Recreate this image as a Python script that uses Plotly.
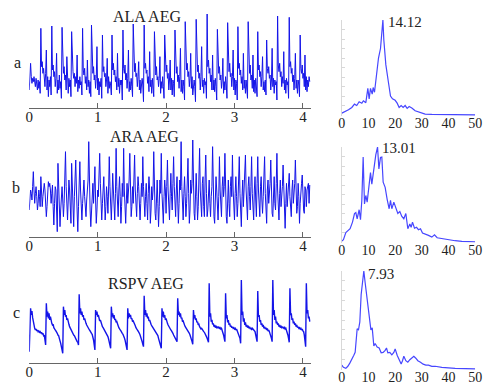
import numpy as np
import plotly.graph_objects as go

FS = 100  # samples per second of the AEG traces

ala_aeg = [
    -0.2, 0.1,
    0.6, 0.2, 0.0, 0.15, 0.05, 0.2, 0.1, -0.1, 0.15, 0.0, -0.2, 0.1, -0.15, 0.05, -0.3,
    1.65, 0.5, 0.65, 0.3, 0.45, 0.2, -0.1, 0.3, 1.0, -0.2, 0.2, -0.4, 0.1, -0.1, 0.2, -0.35,
    1.72, 0.4, 0.55, 0.2, 0.35, -0.1, 0.15, 0.9, -0.3, 0.1, -0.2, 0.25, -0.15, 0.05, -0.45,
    1.68, 0.45, 0.3, 0.5, 0.1, 0.25, -0.2, 0.8, 0.0, -0.3, 0.15, -0.1, 0.1, -0.4,
    1.55, 0.5, 0.35, 0.15, 0.3, -0.1, 0.2, 0.0, 0.85, -0.25, 0.1, -0.15, 0.2, -0.05, 0.05, -0.35,
    1.65, 0.4, 0.25, 0.45, 0.0, 0.2, -0.2, 0.7, -0.1, 0.1, -0.3, 0.05, -0.4,
    1.75, 0.55, 0.3, 0.5, 0.1, 0.25, -0.15, 0.15, 1.1, -0.2, 0.15, -0.35, 0.05, -0.1, 0.15, -0.45,
    1.45, 0.35, 0.5, 0.2, 0.3, -0.1, 0.1, 0.75, -0.3, 0.2, -0.15, 0.05, -0.05, -0.35,
    1.45, 0.4, 0.6, 0.25, 0.4, 0.05, 0.2, -0.2, 0.9, -0.1, 0.15, -0.3, 0.1, -0.05, 0.1, -0.5,
    1.6, 0.45, 0.3, 0.55, 0.1, 0.3, -0.15, 0.15, 1.0, -0.25, 0.05, -0.2, 0.15, -0.1, -0.4,
    1.78, 0.5, 0.35, 0.6, 0.2, 0.3, -0.1, 0.2, 0.65, -0.2, 0.1, -0.3, 0.05, 0.15, -0.05, -0.55,
    1.75, 0.45, 0.6, 0.3, 0.4, 0.0, 0.2, -0.25, 0.95, -0.1, 0.1, -0.3, 0.15, -0.05, -0.4,
    1.55, 0.4, 0.25, 0.5, 0.1, 0.2, -0.1, 0.15, 0.8, -0.3, 0.05, -0.15, 0.2, -0.1, -0.45,
    1.45, 0.5, 0.35, 0.55, 0.15, 0.3, -0.2, 0.1, 0.7, -0.2, 0.15, -0.35, 0.1, 0.0, -0.4,
    1.6, 0.45, 0.3, 0.5, 0.05, 0.25, -0.15, 0.2, 1.05, -0.25, 0.1, -0.3, 0.1, -0.1, -0.5,
    1.85, 0.55, 0.4, 0.6, 0.2, 0.35, -0.1, 0.15, 0.9, -0.15, 0.2, -0.35, 0.05, 0.1, -0.1, -0.55,
    1.92, 0.6, 0.35, 0.55, 0.15, 0.3, -0.2, 0.2, 1.1, -0.1, 0.1, -0.3, 0.15, -0.05, 0.05, -0.45,
    2.08, 0.5, 0.7, 0.3, 0.45, 0.05, 0.25, -0.2, 0.85, -0.2, 0.1, -0.25, 0.15, -0.1, -0.5,
    1.62, 0.45, 0.3, 0.5, 0.1, 0.25, -0.15, 0.1, 0.75, -0.3, 0.05, -0.2, 0.2, -0.05, -0.45,
    1.82, 0.5, 0.35, 0.6, 0.2, 0.3, -0.1, 0.2, 1.0, -0.2, 0.15, -0.35, 0.1, 0.0, -0.5,
    1.7, 0.45, 0.6, 0.25, 0.4, 0.0, 0.2, -0.2, 0.9, -0.15, 0.1, -0.3, 0.1, -0.1, -0.45,
    1.85, 0.5, 0.3, 0.55, 0.1, 0.25, -0.15, 0.85, -0.25, 0.1, -0.3, 0.15, -0.05, -0.4,
    1.55, 0.4, 0.55, 0.2, 0.35, -0.1, 0.2, 0.8, -0.2, 0.05, -0.25, 0.1, -0.35,
    1.3, 0.45, 0.3, 0.5, 0.15, 0.25, -0.2, 0.1, 1.05, -0.1, 0.15, -0.3, 0.1, -0.05, 0.05, -0.5,
    2.02, 0.55, 0.35, 0.6, 0.2, 0.35, -0.1, 0.2, 0.0, 0.95, -0.2, 0.1, -0.3, 0.15, -0.05, 0.05, -0.45,
    1.98, 0.5, 0.65, 0.3, 0.45, 0.05, 0.25, -0.2, 0.15, 0.9, -0.15, 0.1, -0.3, 0.1, -0.05, -0.4,
    1.45, 0.45, 0.3, 0.55, 0.15, 0.3, -0.1, 0.85, -0.2, 0.2, -0.25, 0.1, -0.1, 0.2, 0.05,
]

ara_aeg = [
    -0.4, -0.1, 0.2, 0.1, -0.1, 0.3,
    0.75, 0.2, -0.2, 0.1, 0.3, 0.0, -0.4, -0.2, 0.2, 0.0, -0.3,
    0.6, 0.1, -0.3, 0.0, 0.3, 0.4, 0.2, -0.2, -0.6, -0.3, 0.1,
    0.45, 0.3, 0.4, 0.2, -0.2, 0.1, 0.35, -0.3, -0.85, -0.2, 0.3, 0.2, -0.4, -1.05,
    1.0, 0.2, -0.3, -0.9, -0.4, 0.2, 0.3, -0.1, -0.6, -0.2, 0.4,
    1.35, 0.3, -0.4, -0.7, -0.1, 0.5, 0.2, -0.5, -0.8,
    1.0, 0.1, -0.6, -0.9, 0.0, 0.5,
    1.1, 0.2, -0.5, -1.05, -0.3, 0.4,
    1.05, 0.2, -0.4, -0.7, -0.2, 0.4, 0.5, 0.0, -0.3, -0.6, -0.1, 0.3, 0.5,
    1.65, 0.3, -0.4, -0.9, -0.5, 0.2, 0.4, -0.2, 0.3,
    0.9, -0.1, -0.8, -0.4, 0.2, 0.0, 0.5,
    1.3, 0.4, -0.3, -0.7, -0.2, 0.5, 0.6, -0.1, -0.7, -0.3, 0.3, 0.0, -0.5, 0.2,
    1.2, 0.3, -0.4, -0.7, -0.1, 0.7, 0.2, -0.4, -0.7, 0.1,
    1.45, 0.3, -0.4, -0.6, 0.2, 0.6, 0.0, -0.8, -0.3, 0.4, 0.0,
    1.45, 0.2, -0.5, -0.8, -0.1, 0.4, -0.2, 0.1, 0.5,
    1.3, 0.1, -0.6, -0.3, 0.3, -0.2, 0.4,
    1.25, 0.2, -0.4, -0.6, 0.1, 0.6, 0.3, -0.2, -0.7, -0.2, 0.4, 0.0,
    1.2, 0.3, -0.3, -0.6, 0.0, 0.4, -0.2, -0.7, 0.1, 0.6, 0.2, -0.8, -0.4, 0.3, -0.1, 0.2,
    1.35, 0.2, -0.5, -0.7, 0.1, 0.5, -0.2, -0.9, -0.3, 0.5, 0.1,
    1.3, 0.1, -0.6, -0.8, 0.0, 0.5, 0.2, -0.5, 0.3,
    1.1, 0.2, -0.5, -0.7, 0.1, 0.7, 0.0, -0.4, 0.4,
    1.2, 0.3, -0.4, -0.6, 0.2, 0.6, -0.1, -0.8, -0.2, 0.5, 0.2,
    1.65, 0.3, -0.5, -0.7, 0.1, 0.6, 0.0, -0.6, -0.2, 0.5,
    1.15, 0.1, -0.8, -0.4, 0.5, 0.1, 0.4,
    1.7, 0.3, -0.5, -0.7, 0.2, 0.7, 0.0, -0.7, -0.3, 0.4,
    1.45, 0.2, -0.5, -0.6, 0.4, 0.6, -0.3, -0.6, 0.5,
    1.25, 0.1, -0.6, -0.4, 0.4, 0.5, -0.2, -0.6, 0.0, 0.3,
    1.5, 0.2, -0.6, -0.8, 0.1, 0.6, 0.2, -0.4, -0.7, 0.0,
    1.2, 0.2, -0.5, -0.6, 0.3, 0.6, 0.0, 0.3,
    1.3, 0.1, -0.6, -0.8, 0.2, 0.5, -0.2, -0.6, 0.3, 0.6, 0.0,
    1.25, 0.2, -0.5, -0.7, 0.1, 0.6, 0.0, -0.6, -0.2, 0.4,
    1.2, 0.1, -0.6, -0.9, 0.0, 0.5, -0.3, 0.1, 0.5,
    1.25, 0.2, -0.5, -0.7, 0.3, 0.6, 0.0, -0.4, 0.3,
    1.2, 0.1, -0.5, -0.7, 0.2, 0.6, -0.1, -0.6, 0.4,
    1.2, 0.2, -0.5, -0.6, 0.3, 0.6, -0.1, -0.5, 0.0, 0.4,
    1.2, 0.1, -0.6, -0.8, 0.2, 0.5, -0.2, 0.0, 0.4,
    1.1, 0.1, -0.5, -0.6, 0.4, 0.6, -0.2, -0.4, 0.4,
    1.3, 0.2, -0.5, -0.7, 0.1, 0.5, -0.3, -0.1, 0.3,
    0.95, 0.0, -0.6, -0.95, -0.2, 0.4, -0.3, 0.0, 0.2,
    0.7, 0.0, -0.5, -0.6, 0.2, 0.5, -0.2, 0.0, 0.4,
    1.1, 0.1, -0.5, -0.3, 0.4, 0.0, -0.8, -0.2, 0.3, 0.4,
    0.65, 0.0, -0.4, -0.5, 0.3, 0.2, -0.3, 0.2, 0.3,
    0.4, -0.2, 0.35,
]

rspv_aeg = [
    -0.6, 0.15, 0.7, 0.5, 0.62, 0.42, 0.3, 0.15, 0.1, 0.05, 0.08, 0.02, 0.05, 0.0, 0.02, -0.02, 0.0, -0.05, -0.02, -0.08, -0.05, -0.12, -0.1, -0.25, -0.4,
    0.85, 0.45, 0.6, 0.4, 0.55, 0.35, 0.45, 0.3, 0.25, 0.2, 0.22, 0.12, 0.1, 0.05, 0.02, 0.0, -0.05, -0.1, -0.12, -0.2, -0.25, -0.35, -0.45, -0.55, -0.65,
    0.75, 0.5, 0.65, 0.45, 0.5, 0.35, 0.4, 0.25, 0.22, 0.15, 0.1, 0.05, 0.02, -0.02, -0.05, -0.1, -0.12, -0.18, -0.2, -0.25, -0.3, -0.32, -0.4,
    1.12, 0.55, 0.7, 0.5, 0.6, 0.45, 0.5, 0.35, 0.4, 0.28, 0.25, 0.2, 0.15, 0.12, 0.1, 0.05, 0.02, 0.0, -0.05, -0.08, -0.15, -0.25, -0.4, -0.55,
    0.65, 0.5, 0.6, 0.45, 0.5, 0.4, 0.32, 0.35, 0.25, 0.2, 0.15, 0.12, 0.08, 0.05, 0.02, -0.02, -0.05, -0.1, -0.15, -0.22, -0.3, -0.35, -0.5,
    0.75, 0.45, 0.55, 0.4, 0.5, 0.35, 0.38, 0.28, 0.3, 0.2, 0.18, 0.12, 0.1, 0.05, 0.02, 0.0, -0.05, -0.08, -0.12, -0.18, -0.25, -0.35, -0.45, -0.55,
    0.7, 0.4, 0.55, 0.45, 0.5, 0.38, 0.4, 0.3, 0.32, 0.25, 0.2, 0.18, 0.12, 0.1, 0.05, 0.02, 0.0, -0.05, -0.1, -0.15, -0.2, -0.3, -0.38, -0.45,
    1.08, 0.5, 0.65, 0.45, 0.55, 0.4, 0.45, 0.32, 0.35, 0.25, 0.22, 0.18, 0.15, 0.1, 0.08, 0.05, 0.02, 0.0, -0.05, -0.08, -0.12, -0.2, -0.28, -0.38, -0.42, -0.5,
    0.7, 0.45, 0.6, 0.42, 0.5, 0.35, 0.4, 0.28, 0.25, 0.2, 0.15, 0.12, 0.08, 0.05, 0.02, 0.0, -0.05, -0.1, -0.15, -0.18, -0.22, -0.28, -0.3,
    1.0, 0.5, 0.6, 0.45, 0.55, 0.4, 0.42, 0.3, 0.32, 0.22, 0.2, 0.15, 0.12, 0.1, 0.05, 0.02, 0.0, -0.05, -0.1, -0.15, -0.2, -0.3, -0.38,
    0.65, 0.4, 0.5, 0.35, 0.4, 0.28, 0.3, 0.2, 0.22, 0.15, 0.12, 0.08, 0.1, 0.05, 0.02, 0.0, -0.02, -0.05, -0.1, -0.15, -0.2, -0.25, -0.32,
    1.45, 0.45, 0.55, 0.3, 0.35, 0.22, 0.25, 0.15, 0.2, 0.12, 0.18, 0.1, 0.15, 0.12, 0.15, 0.1, 0.12, 0.08, 0.1, 0.05, 0.0, -0.1, -0.2, -0.3,
    1.15, 0.4, 0.5, 0.28, 0.35, 0.2, 0.25, 0.15, 0.18, 0.12, 0.15, 0.1, 0.12, 0.08, 0.1, 0.05, 0.08, 0.02, 0.0, -0.05, -0.12, -0.2, -0.35,
    1.55, 0.5, 0.6, 0.3, 0.4, 0.2, 0.28, 0.15, 0.2, 0.12, 0.18, 0.1, 0.15, 0.08, 0.12, 0.05, 0.1, 0.08, 0.05, 0.02, 0.0, -0.1, -0.2, -0.3,
    1.22, 0.45, 0.5, 0.3, 0.35, 0.2, 0.25, 0.15, 0.2, 0.1, 0.15, 0.08, 0.12, 0.05, 0.1, 0.02, 0.05, 0.0, -0.05, -0.12, -0.2, -0.3,
    1.55, 0.5, 0.65, 0.35, 0.45, 0.25, 0.3, 0.2, 0.25, 0.15, 0.2, 0.12, 0.18, 0.1, 0.15, 0.12, 0.1, 0.15, 0.08, 0.1, 0.05, 0.0, -0.1, -0.2, -0.32,
    1.3, 0.5, 0.55, 0.35, 0.4, 0.25, 0.3, 0.2, 0.25, 0.15, 0.2, 0.12, 0.15, 0.1, 0.12, 0.08, 0.1, 0.05, 0.08, 0.02, 0.0, -0.1, -0.25, -0.45,
    1.45, 0.55, 0.65, 0.4, 0.45, 0.3,
]

# Spectra (normalised power vs frequency, Hz)
ala_freq = [0, 0.75, 1.25, 2.5, 3.75, 4.75, 5.6, 6.5, 7.5, 8.1, 9, 9.75, 10.25, 10.75, 11.4,
            11.75, 12.25, 12.75, 13.75, 14.5, 15, 15.4, 15.75, 16.5, 17.5, 18.25, 19, 20,
            20.75, 21.5, 22.25, 23, 23.75, 24.5, 25.25, 26.25, 27.5, 28.75, 30, 31.25, 33.75,
            37.5, 42.5, 50]
ala_pow = [0.02, 0.03, 0.045, 0.055, 0.08, 0.115, 0.10, 0.14, 0.125, 0.15, 0.13, 0.28, 0.17,
           0.28, 0.22, 0.29, 0.24, 0.375, 0.60, 0.70, 0.86, 1.0, 0.79, 0.53, 0.34, 0.20, 0.17,
           0.155, 0.125, 0.08, 0.10, 0.08, 0.10, 0.07, 0.09, 0.075, 0.045, 0.035, 0.017, 0.01,
           0.007, 0.005, 0.003, 0.001]

ara_freq = [0, 0.6, 1.5, 2.25, 3.1, 4, 4.75, 5.25, 5.75, 6.5, 7, 7.5, 8, 8.5, 9, 9.5, 10, 10.75,
            11.25, 12, 12.75, 13.4, 13.9, 14.5, 15, 15.5, 16.25, 17, 17.75, 18.25, 18.75, 19.5,
            20.25, 21, 21.75, 22.5, 23.25, 24, 24.75, 25.5, 26, 26.5, 27.25, 28, 28.75, 29.5,
            30.25, 31.25, 32.5, 33.75, 34.75, 35.75, 37.5, 40, 42.5, 45, 50]
ara_pow = [0.01, 0.025, 0.10, 0.12, 0.14, 0.21, 0.30, 0.31, 0.245, 0.34, 0.235, 0.44, 0.895,
           0.40, 0.49, 0.42, 0.575, 0.73, 0.61, 0.78, 0.92, 1.0, 0.77, 0.89, 0.895, 0.63, 0.575,
           0.45, 0.35, 0.44, 0.35, 0.42, 0.35, 0.30, 0.32, 0.27, 0.245, 0.30, 0.14, 0.19, 0.155,
           0.21, 0.145, 0.155, 0.13, 0.14, 0.095, 0.08, 0.07, 0.052, 0.077, 0.045, 0.035, 0.024,
           0.014, 0.007, 0.003]

rspv_freq = [0, 0.6, 1.5, 2.25, 3, 3.75, 4.5, 5, 5.75, 6.25, 6.75, 7.25, 7.75, 8.25, 8.75, 9.5,
             10.25, 10.9, 11.4, 12, 12.5, 13.25, 14, 14.75, 15.5, 16.25, 16.75, 17.25, 18, 18.75,
             19.5, 20, 20.75, 21.5, 22.25, 22.75, 23.25, 24, 24.75, 25.5, 26.25, 27, 27.75,
             28.5, 29.5, 30.5, 31.5, 32.5, 33.75, 35, 37.5, 40, 42.5, 46.25, 50]
rspv_pow = [0.04, 0.017, 0.007, 0.028, 0.06, 0.11, 0.14, 0.17, 0.41, 0.40, 0.48, 0.76, 0.91,
            1.0, 0.88, 0.69, 0.53, 0.40, 0.42, 0.235, 0.26, 0.225, 0.215, 0.165, 0.17, 0.19,
            0.215, 0.165, 0.17, 0.145, 0.17, 0.205, 0.14, 0.10, 0.05, 0.085, 0.13, 0.085, 0.07,
            0.095, 0.11, 0.13, 0.11, 0.085, 0.07, 0.05, 0.04, 0.04, 0.028, 0.028, 0.017, 0.01,
            0.007, 0.004, 0.002]

titles = ["ALA AEG", "ARA AEG", "RSPV AEG"]
row_letters = ["a", "b", "c"]
peak_labels = ["14.12", "13.01", "7.93"]
time_ticks = [0, 1, 2, 3, 4]
freq_ticks = [0, 10, 20, 30, 40, 50]

W, H = 489, 391
def py(px):
    return 1 - px / H
def pxx(px):
    return px / W

SERIF = "Liberation Serif, Times New Roman, serif"
SIG_COLOR = "#1414e8"
SPEC_COLOR = "#4646ff"

signals = [ala_aeg, ara_aeg, rspv_aeg]
sig_widths = [1.0, 1.0, 1.4]
spectra = [(ala_freq, ala_pow), (ara_freq, ara_pow), (rspv_freq, rspv_pow)]

left_rows = [  # (top px, bottom px, y range)
    (8, 108, [-0.74, 2.26]),
    (137, 237, [-1.21, 1.79]),
    (275, 363.3, [-0.95, 1.70]),
]
right_rows = [(20, 116), (147, 243), (271, 370)]
title_pos = [(146, 16), (144, 136), (145, 283)]
letter_pos = [(13.5, 62), (12.5, 187), (12.5, 312)]
peak_pos = [(16.4, 0.98), (14.2, 0.99), (9.0, 0.97)]
LEFT_DOM = (25.8, 314.2)
RIGHT_DOM = (345.6, 482.0)

fig = go.Figure()
layout = dict(
    width=W, height=H, margin=dict(l=0, r=0, t=0, b=0, pad=0),
    paper_bgcolor="white", plot_bgcolor="white", showlegend=False,
    annotations=[],
)

for r in range(3):
    sig = signals[r]
    t = np.arange(len(sig)) / FS
    xl = f"x{2*r+1}"
    yl = f"y{2*r+1}"
    xr = f"x{2*r+2}"
    yr = f"y{2*r+2}"
    fig.add_trace(go.Scatter(x=t, y=sig, mode="lines", xaxis=xl, yaxis=yl,
                             line=dict(color=SIG_COLOR, width=sig_widths[r])))
    f, p = spectra[r]
    fig.add_trace(go.Scatter(x=f, y=p, mode="lines", xaxis=xr, yaxis=yr,
                             line=dict(color=SPEC_COLOR, width=1.2)))
    top, bot, yrng = left_rows[r]
    k = "" if r == 0 else str(2*r+1)
    layout[f"xaxis{k}"] = dict(
        domain=[pxx(LEFT_DOM[0]), pxx(LEFT_DOM[1])], range=[0, 4.12], anchor=yl,
        showline=True, linecolor="#666666", linewidth=1,
        ticks="inside", ticklen=5, tickcolor="#666666",
        tickvals=time_ticks, ticktext=[str(v) for v in time_ticks],
        tickfont=dict(family=SERIF, size=15, color="#222222"),
        ticklabelstandoff=-5,
        showgrid=False, zeroline=False,
    )
    layout[f"yaxis{2*r+1}"] = dict(
        domain=[py(bot), py(top)], range=yrng, anchor=xl,
        showline=False, showticklabels=False, ticks="", showgrid=False, zeroline=False,
    )
    rtop, rbot = right_rows[r]
    layout[f"xaxis{2*r+2}"] = dict(
        domain=[pxx(RIGHT_DOM[0]), pxx(RIGHT_DOM[1])], range=[0, 50], anchor=yr,
        showline=False, ticks="",
        tickvals=freq_ticks, ticktext=[str(v) for v in freq_ticks],
        tickfont=dict(family=SERIF, size=14, color="#222222"),
        ticklabelstandoff=-3,
        showgrid=False, zeroline=False,
    )
    layout[f"yaxis{2*r+2}"] = dict(
        domain=[py(rbot), py(rtop)], range=[-0.01, 1.0], anchor=xr,
        showline=True, linecolor="#d8d8d8", linewidth=1,
        ticks="inside", ticklen=3, tickcolor="#d8d8d8", dtick=0.1,
        showticklabels=False, showgrid=False, zeroline=False,
    )
    tx, ty = title_pos[r]
    layout["annotations"].append(dict(
        x=pxx(tx), y=py(ty), xref="paper", yref="paper", text=titles[r],
        showarrow=False, xanchor="center", yanchor="middle",
        font=dict(family=SERIF, size=16, color="#222222")))
    lx, ly = letter_pos[r]
    layout["annotations"].append(dict(
        x=pxx(lx), y=py(ly), xref="paper", yref="paper", text=row_letters[r],
        showarrow=False, xanchor="center", yanchor="middle",
        font=dict(family=SERIF, size=16, color="#222222")))
    px_, py_ = peak_pos[r]
    layout["annotations"].append(dict(
        x=px_, y=py_, xref=xr, yref=yr, text=peak_labels[r],
        showarrow=False, xanchor="left", yanchor="middle",
        font=dict(family=SERIF, size=15, color="#222222")))

fig.update_layout(**layout)
fig.write_html(
    "out.html",
    config={"displayModeBar": False},
    post_script="document.documentElement.style.margin='0';document.body.style.margin='0';"
                "document.body.style.padding='0';document.body.style.overflow='hidden';",
)
